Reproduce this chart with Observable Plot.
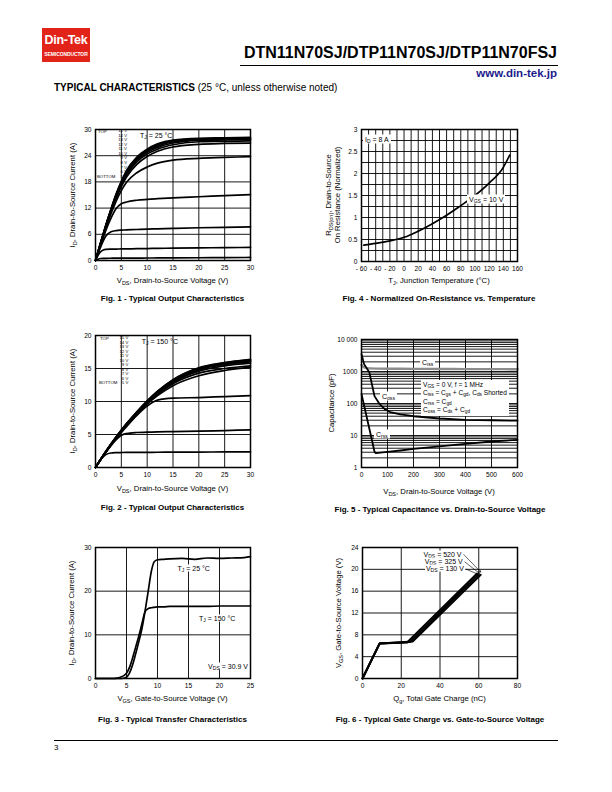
<!DOCTYPE html>
<html><head><meta charset="utf-8">
<script src="https://cdn.jsdelivr.net/npm/d3@7"></script>
<script src="https://cdn.jsdelivr.net/npm/@observablehq/plot@0.6"></script>
<style>
body{margin:0;background:#fff;}
#page{position:relative;width:612px;height:792px;background:#fff;overflow:hidden;font-family:"Liberation Sans",Arial,sans-serif;color:#000;}
.lbl{position:absolute;white-space:nowrap;line-height:1;}
.lbl sub{font-size:72%;vertical-align:-0.3em;line-height:0;}
</style></head>
<body><div id="page"></div>
<script>
// ---------- Fig 1: output characteristics, TJ = 25 °C ----------
const vgsLabels = ["15 V","14 V","13 V","12 V","11 V","10 V","9 V","8 V","7 V","6 V","5 V"];
const vds25 = [0,0.5,1,1.5,2,3,4,5,6,8,10,12,15,20,25,30];
const id25_5V  = [0,0.3,0.45,0.5,0.5,0.52,0.53,0.54,0.55,0.56,0.57,0.58,0.6,0.63,0.66,0.7];
const id25_6V  = [0,1.2,2.0,2.4,2.55,2.6,2.62,2.64,2.66,2.7,2.74,2.78,2.83,2.9,2.95,3.0];
const id25_7V  = [0,1.6,3.1,4.5,5.6,6.6,6.85,6.95,7.0,7.1,7.2,7.25,7.35,7.5,7.6,7.7];
const id25_8V  = [0,1.8,3.6,5.3,6.9,9.7,11.9,13.0,13.4,13.8,14.0,14.15,14.35,14.6,14.85,15.1];
const id25_9V  = [0,1.9,3.8,5.6,7.4,10.7,13.6,16.0,17.9,20.1,21.4,22.3,23.0,23.4,23.6,23.8];
const id25_10V = [0,2.0,3.9,5.8,7.7,11.2,14.3,16.9,19.1,22.0,23.8,25.0,26.0,26.6,26.8,26.9];
const id25_11V = [0,2.0,4.0,5.9,7.8,11.4,14.6,17.3,19.6,22.6,24.4,25.5,26.5,27.2,27.3,27.4];
const id25_12V = [0,2.0,4.0,5.95,7.9,11.5,14.8,17.6,19.9,23.0,24.8,25.9,26.9,27.5,27.6,27.7];
const id25_13V = [0,2.05,4.05,6.0,8.0,11.6,15.0,17.8,20.2,23.3,25.1,26.2,27.2,27.7,27.8,27.9];
const id25_14V = [0,2.05,4.1,6.05,8.05,11.7,15.1,18.0,20.4,23.5,25.3,26.5,27.4,27.85,27.95,28.0];
const id25_15V = [0,2.1,4.1,6.1,8.1,11.8,15.25,18.1,20.6,23.7,25.5,26.7,27.6,28.0,28.1,28.2];

// ---------- Fig 2: output characteristics, TJ = 150 °C ----------
const vds150 = [0,1,2,3,4,5,6,8,10,12,15,20,25,30];
const id150_5V  = [0,1.2,1.95,2.2,2.25,2.27,2.28,2.29,2.3,2.31,2.32,2.34,2.36,2.38];
const id150_6V  = [0,1.2,2.3,3.3,4.2,4.9,5.15,5.3,5.35,5.4,5.45,5.5,5.6,5.7];
const id150_7V  = [0,1.2,2.3,3.4,4.4,5.3,6.2,7.9,9.3,10.2,10.5,10.6,10.75,10.9];
const id150_8V  = [0,1.2,2.3,3.4,4.4,5.4,6.3,8.0,9.6,10.9,12.4,13.9,14.7,15.2];
const id150_9V  = [0,1.2,2.35,3.45,4.5,5.5,6.4,8.1,9.7,11.1,12.7,14.3,15.0,15.4];
const id150_10V = [0,1.2,2.35,3.45,4.5,5.5,6.45,8.2,9.8,11.2,12.9,14.6,15.4,15.8];
const id150_11V = [0,1.2,2.4,3.5,4.55,5.55,6.5,8.25,9.9,11.3,13.0,14.8,15.6,16.0];
const id150_12V = [0,1.22,2.4,3.5,4.6,5.6,6.55,8.3,9.95,11.4,13.1,14.9,15.7,16.1];
const id150_13V = [0,1.22,2.42,3.55,4.6,5.62,6.6,8.35,10.0,11.45,13.2,15.0,15.8,16.2];
const id150_14V = [0,1.24,2.44,3.56,4.62,5.65,6.62,8.4,10.05,11.5,13.25,15.05,15.85,16.3];
const id150_15V = [0,1.25,2.45,3.58,4.65,5.68,6.65,8.45,10.1,11.55,13.3,15.1,15.9,16.4];

// ---------- Fig 3: transfer characteristics ----------
const vgsT = [0,3,3.5,4,4.5,5,5.5,6,6.5,7,7.5,8,8.5,9,9.5,10,11,12,14,16,18,20,22,24,25];
const idT25  = [0,0,0,0,0.05,0.3,1.3,3.2,5.8,8.5,11.5,15.5,20.0,24.5,26.8,27.2,27.3,27.4,27.5,27.3,27.6,27.5,27.6,27.7,27.9];
const idT150 = [0,0,0.1,0.3,0.6,1.2,2.6,4.8,7.3,9.8,12.6,15.3,16.0,16.2,16.3,16.4,16.4,16.5,16.5,16.5,16.5,16.6,16.6,16.6,16.6];

// ---------- Fig 4: normalized on-resistance ----------
const tj = [-57,-40,-20,0,20,40,60,80,100,120,140,149];
const rdsNorm = [0.37,0.41,0.47,0.55,0.69,0.86,1.05,1.27,1.5,1.78,2.14,2.42];

// ---------- Fig 5: capacitance ----------
const vCiss = [0,10,30,100,200,300,400,500,600];
const ciss  = [1600,1350,1250,1220,1210,1200,1190,1185,1180];
const vCoss = [0,10,30,50,70,90,110,150,200,300,400,500,600];
const coss  = [3500,1700,950,170,95,66,54,46,40,34,31,30,29];
const vCrss = [0,10,20,30,40,50,55,100,150,200,300,400,500,600];
const crss  = [200,87,38,16.6,7.2,3.1,2.8,3.1,3.4,3.8,4.6,5.5,6.5,7.3];

// ---------- Fig 6: gate charge ----------
const gateSeries = ["130 V","325 V","520 V"];
const qg130 = [0,8.8,23,59];   const vg130 = [0,6.4,6.6,19.2];
const qg325 = [0,8.8,24.5,60]; const vg325 = [0,6.4,6.7,19.1];
const qg520 = [0,8.8,26,61];   const vg520 = [0,6.4,6.8,19.0];

// ---------- tick labels ----------
const ticksF1x = [0,5,10,15,20,25,30], ticksF1y = [0,6,12,18,24,30];
const ticksF2y = [0,5,10,15,20];
const ticksF3x = [0,5,10,15,20,25], ticksF3y = [0,10,20,30];
const ticksF4x = [-60,-40,-20,0,20,40,60,80,100,120,140,160], ticksF4y = [0,0.5,1,1.5,2,2.5,3];
const ticksF5x = [0,100,200,300,400,500,600], ticksF5y = [1,10,100,1000,10000];
const ticksF6x = [0,20,40,60,80], ticksF6y = [0,4,8,12,16,20,24];

// ================= helpers =================
const page = document.getElementById("page");
const FONT = '"Liberation Sans", Arial, sans-serif';
function label(x, y, html, o = {}) {
  const d = document.createElement("div");
  d.className = "lbl";
  d.innerHTML = html;
  const a = o.anchor || "middle";
  const tx = a === "start" ? "0" : a === "end" ? "-100%" : "-50%";
  const ty = o.valign === "top" ? "0" : "-50%";
  d.style.left = x + "px"; d.style.top = y + "px";
  d.style.fontSize = (o.size || 7.7) + "px";
  if (o.weight) d.style.fontWeight = o.weight;
  if (o.bg) { d.style.background = o.bg; d.style.padding = o.pad || "0 1px"; }
  if (o.color) d.style.color = o.color;
  if (o.lh) d.style.lineHeight = o.lh;
  if (o.ls) d.style.letterSpacing = o.ls;
  d.style.transform = `translate(${tx},${ty})` + (o.rotate ? ` rotate(${o.rotate}deg)` : "");
  page.appendChild(d);
  return d;
}
function box(l, t, w, h, bg) {
  const d = document.createElement("div");
  d.style.cssText = `position:absolute;left:${l}px;top:${t}px;width:${w}px;height:${h}px;background:${bg};`;
  page.appendChild(d);
}
function tidy(xs, pairs) {
  return pairs.flatMap(([s, ys]) => ys.map((y, i) => ({x: xs[i], y, s})));
}
function chart({L, T, W, H, x, y, marks}) {
  const ml = 40, mt = 10, mr = 20, mb = 22;
  const svg = Plot.plot({
    width: W + ml + mr, height: H + mt + mb,
    marginLeft: ml, marginRight: mr, marginTop: mt, marginBottom: mb,
    x: {...x, label: null}, y: {...y, label: null},
    style: {fontFamily: FONT, fontSize: "6.6px", background: "transparent", overflow: "visible", color: "black", maxWidth: "none"},
    marks
  });
  const d = document.createElement("div");
  d.style.cssText = `position:absolute;left:${L - ml}px;top:${T - mt}px;width:${W + ml + mr}px;`;
  d.appendChild(svg);
  page.appendChild(d);
}
const grid = (gx, gy) => [
  Plot.ruleX(gx, {stroke: "black", strokeWidth: 0.9}),
  Plot.ruleY(gy, {stroke: "black", strokeWidth: 0.9})
];
const plain = d => String(d);
const axes = (tx, ty, fx, fy) => [
  Plot.axisX(tx, {tickSize: 0, tickPadding: 5, label: null, tickFormat: fx || plain}),
  Plot.axisY(ty, {tickSize: 0, tickPadding: 4, label: null, tickFormat: fy || plain})
];
const frame = Plot.frame({stroke: "black", strokeWidth: 1.5});
const curveOpts = {x: "x", y: "y", z: "s", stroke: "black", strokeWidth: 1.7, curve: "monotone-x"};

// ================= header =================
box(42, 28, 48, 34, "#e2231a");
label(66, 40, "Din-Tek", {size: 12.5, weight: "bold", color: "#fff", ls: "-0.3px"});
label(66, 53.5, "SEMICONDUCTOR", {size: 5, weight: "bold", color: "#fff", ls: "-0.1px"});
label(557, 53, "DTN11N70SJ/DTP11N70SJ/DTP11N70FSJ", {anchor: "end", size: 16, weight: "bold"});
box(240, 64.5, 318, 1.3, "#000");
label(557, 73.5, "www.din-tek.jp", {anchor: "end", size: 11.5, weight: "bold", color: "#1c1c8c"});
label(54, 88, "<b>TYPICAL CHARACTERISTICS</b> (25 °C, unless otherwise noted)", {anchor: "start", size: 10});
box(54, 740, 504, 1, "#000");
label(54, 748, "3", {anchor: "start", size: 8});

// ================= Fig 1 =================
const f1 = [id25_15V,id25_14V,id25_13V,id25_12V,id25_11V,id25_10V,id25_9V,id25_8V,id25_7V,id25_6V,id25_5V].map((a, i) => [vgsLabels[i], a]);
chart({L: 95, T: 129, W: 155, H: 131,
  x: {domain: [0, 30]}, y: {domain: [0, 30]},
  marks: [...grid([5,10,15,20,25], [6,12,18,24]),
    Plot.line(tidy(vds25, f1), curveOpts),
    frame, ...axes(ticksF1x, ticksF1y)]});
label(72.5, 194.5, "I<sub>D</sub>, Drain-to-Source Current (A)", {rotate: -90});
label(172.5, 281, "V<sub>DS</sub>, Drain-to-Source Voltage (V)");
label(172.5, 299, "Fig. 1 - Typical Output Characteristics", {size: 8, weight: "bold"});
label(98, 131.5, "TOP", {anchor: "start", size: 4.3});
label(97, 176.5, "BOTTOM", {anchor: "start", size: 4.3});
vgsLabels.forEach((t, i) => label(127, 131 + i * 4.57, t, {anchor: "end", size: 4.3}));
label(140, 135, "T<sub>J</sub> = 25 °C", {anchor: "start", size: 7});

// ================= Fig 2 =================
const f2 = [id150_15V,id150_14V,id150_13V,id150_12V,id150_11V,id150_10V,id150_9V,id150_8V,id150_7V,id150_6V,id150_5V].map((a, i) => [vgsLabels[i], a]);
chart({L: 95, T: 335, W: 155, H: 132,
  x: {domain: [0, 30]}, y: {domain: [0, 20]},
  marks: [...grid([5,10,15,20,25], [5,10,15]),
    Plot.line(tidy(vds150, f2), curveOpts),
    frame, ...axes(ticksF1x, ticksF2y)]});
label(73, 401, "I<sub>D</sub>, Drain-to-Source Current (A)", {rotate: -90});
label(172.5, 488.5, "V<sub>DS</sub>, Drain-to-Source Voltage (V)");
label(172.5, 508, "Fig. 2 - Typical Output Characteristics", {size: 8, weight: "bold"});
label(100, 339, "TOP", {anchor: "start", size: 4.3});
label(99, 383.3, "BOTTOM", {anchor: "start", size: 4.3});
vgsLabels.forEach((t, i) => label(128.3, 338.3 + i * 4.5, t, {anchor: "end", size: 4.3}));
label(141.7, 341, "T<sub>J</sub> = 150 °C", {anchor: "start", size: 7});

// ================= Fig 3 =================
chart({L: 95, T: 547, W: 155, H: 131,
  x: {domain: [0, 25]}, y: {domain: [0, 30]},
  marks: [...grid([5,10,15,20], [10,20]),
    Plot.line(tidy(vgsT, [["25 °C", idT25], ["150 °C", idT150]]), curveOpts),
    frame, ...axes(ticksF3x, ticksF3y)]});
label(72, 612.5, "I<sub>D</sub>, Drain-to-Source Current (A)", {rotate: -90});
label(172.5, 699, "V<sub>GS</sub>, Gate-to-Source Voltage (V)");
label(172.5, 719.5, "Fig. 3 - Typical Transfer Characteristics", {size: 8, weight: "bold"});
label(176.5, 567.5, "T<sub>J</sub> = 25 °C", {anchor: "start", size: 7, bg: "#fff"});
label(198, 618.3, "T<sub>J</sub> = 150 °C", {anchor: "start", size: 7, bg: "#fff"});
label(249, 665.7, "V<sub>DS</sub> = 30.9 V", {anchor: "end", size: 7, bg: "#fff"});

// ================= Fig 4 =================
chart({L: 361, T: 129, W: 156, H: 132,
  x: {domain: [-60, 160]}, y: {domain: [0, 3]},
  marks: [...grid(d3.range(-50, 160, 10), d3.range(0.25, 3, 0.25)),
    Plot.line(tidy(tj, [["10 V", rdsNorm]]), curveOpts),
    frame, ...axes(ticksF4x, ticksF4y, d => d < 0 ? "- " + (-d) : String(d))]});
label(328.5, 195, "R<sub>DS(on)</sub>, Drain-to-Source", {rotate: -90});
label(337.5, 195, "On Resistance (Normalized)", {rotate: -90});
label(439, 281, "T<sub>J</sub>, Junction Temperature (°C)");
label(439, 299, "Fig. 4 - Normalized On-Resistance vs. Temperature", {size: 8, weight: "bold"});
label(363, 138.5, "I<sub>D</sub> = 8 A", {anchor: "start", size: 7, bg: "#fff", pad: "1px 2px"});
label(467, 198.5, "V<sub>GS</sub> = 10 V", {anchor: "start", size: 7, bg: "#fff", pad: "1px 2px"});

// ================= Fig 5 =================
const minors = [1,10,100,1000].flatMap(d => [2,3,4,5,6,7,8,9].map(k => k * d)).concat([10,100,1000]);
chart({L: 361, T: 339, W: 156, H: 128,
  x: {domain: [0, 600]}, y: {type: "log", domain: [1, 10000]},
  marks: [...grid([100,200,300,400,500], minors),
    Plot.line(tidy(vCiss, [["Ciss", ciss]]), {...curveOpts, stroke: "#8c8c8c", strokeWidth: 2.4}),
    Plot.line(tidy(vCoss, [["Coss", coss]]), {...curveOpts, strokeWidth: 1.8, curve: "linear"}),
    Plot.line(tidy(vCrss, [["Crss", crss]]), {...curveOpts, strokeWidth: 1.8, curve: "linear"}),
    frame, ...axes(ticksF5x, ticksF5y, null, d => d === 10000 ? "10 000" : String(d))]});
label(332, 403, "Capacitance (pF)", {rotate: -90});
label(439, 491.5, "V<sub>DS</sub>, Drain-to-Source Voltage (V)");
label(440, 509.5, "Fig. 5 - Typical Capacitance vs. Drain-to-Source Voltage", {size: 8, weight: "bold"});
label(420, 362, "C<sub>iss</sub>", {anchor: "start", size: 7, bg: "#fff", pad: "1px 2px"});
label(380, 395.5, "C<sub>oss</sub>", {anchor: "start", size: 7, bg: "#fff", pad: "1px 2px"});
label(374, 433.5, "C<sub>rss</sub>", {anchor: "start", size: 7, bg: "#fff", pad: "1px 2px"});
label(421, 379.5,
  "V<sub>GS</sub> = 0 V, f = 1 MHz<br>C<sub>iss</sub> = C<sub>gs</sub> + C<sub>gd</sub>, C<sub>ds</sub> Shorted<br>C<sub>rss</sub> = C<sub>gd</sub><br>C<sub>oss</sub> = C<sub>ds</sub> + C<sub>gd</sub>",
  {anchor: "start", valign: "top", size: 6.6, bg: "#fff", pad: "1px 2px", lh: "8.6px"});

// ================= Fig 6 =================
const gateRows = [
  ...tidy(qg130, [[gateSeries[0], vg130]]),
  ...tidy(qg325, [[gateSeries[1], vg325]]),
  ...tidy(qg520, [[gateSeries[2], vg520]])
];
const gateArrows = [
  {x1: 52.3, y1: 22.7, x2: 61, y2: 19.5},
  {x1: 52.8, y1: 21.35, x2: 60.3, y2: 19.3},
  {x1: 53.6, y1: 20.0, x2: 59.6, y2: 19.1}
];
chart({L: 362, T: 547, W: 155, H: 131,
  x: {domain: [0, 80]}, y: {domain: [0, 24]},
  marks: [...grid([20,40,60], [4,8,12,16,20]),
    Plot.line(gateRows, {...curveOpts, strokeWidth: 2, curve: "linear"}),
    Plot.arrow(gateArrows, {x1: "x1", y1: "y1", x2: "x2", y2: "y2", stroke: "black", strokeWidth: 0.6, headLength: 4, bend: false}),
    frame, ...axes(ticksF6x, ticksF6y)]});
label(339, 612.5, "V<sub>GS</sub>, Gate-to-Source Voltage (V)", {rotate: -90});
label(439.5, 699, "Q<sub>g</sub>, Total Gate Charge (nC)");
label(440, 719.5, "Fig. 6 - Typical Gate Charge vs. Gate-to-Source Voltage", {size: 8, weight: "bold"});
["520 V","325 V","130 V"].forEach((v, i) =>
  label(462.5 + i * 1.2, 553.5 + i * 7.4, "V<sub>DS</sub> = " + v, {anchor: "end", size: 7, bg: "#fff", pad: "0 1px"}));
</script>
</body></html>
